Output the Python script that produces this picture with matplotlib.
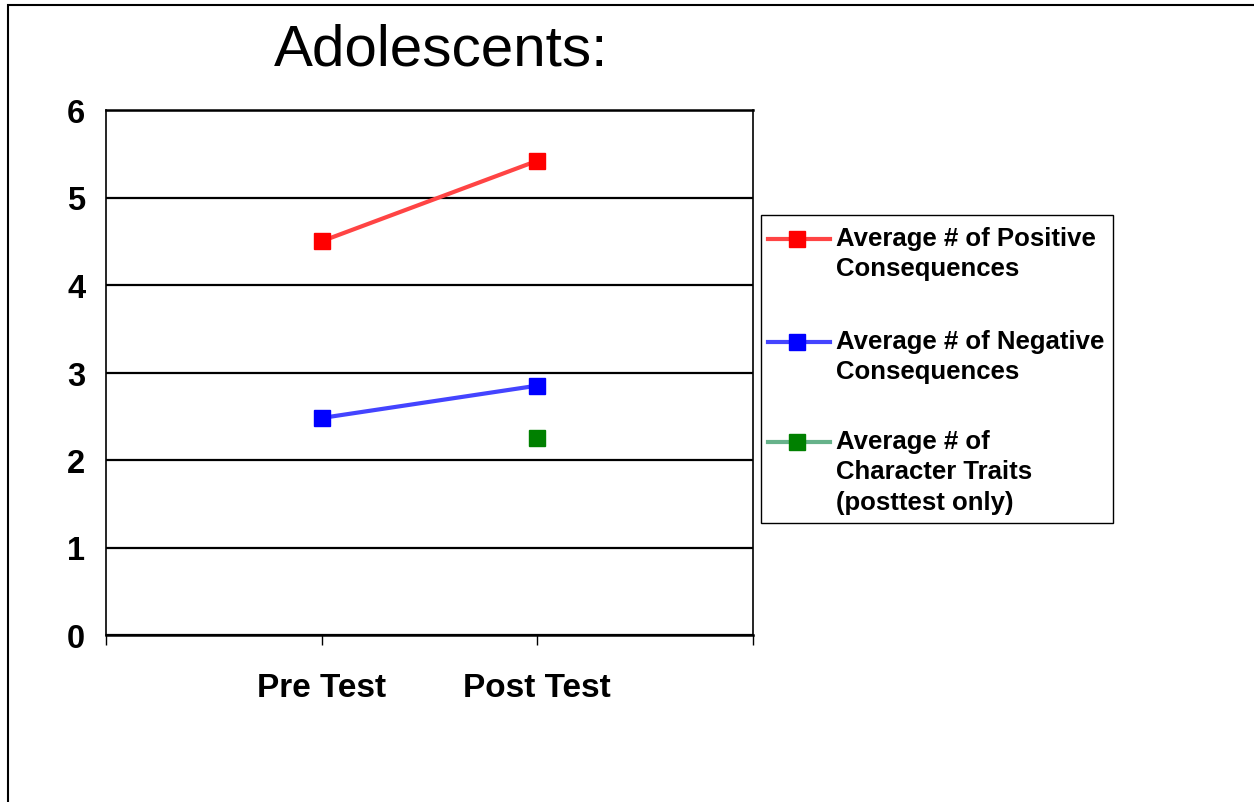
import numpy as np
import matplotlib
matplotlib.use("Agg")
import matplotlib.pyplot as plt
from matplotlib.lines import Line2D
from matplotlib.patches import Rectangle

plt.rcParams['font.family'] = ['Liberation Sans', 'DejaVu Sans']

# data
categories = ['Pre Test', 'Post Test']
series_names = ['Average # of Positive\nConsequences',
                'Average # of Negative\nConsequences',
                'Average # of\nCharacter Traits\n(posttest only)']
positive = [4.50, 5.42]
negative = [2.48, 2.85]
traits = [np.nan, 2.25]
line_colors = ['#FF4444', '#4444FF', '#66B28A']
marker_colors = ['#FF0000', '#0000FF', '#008000']

W, H = 1254, 803
fig = plt.figure(figsize=(W / 100, H / 100), dpi=100)
ax = fig.add_axes([106 / W, 1 - 636 / H, (753 - 106) / W, (636 - 111) / H])

x = np.arange(len(categories))
for vals, lc, mc in zip([positive, negative, traits], line_colors, marker_colors):
    ax.plot(x, vals, color=lc, lw=3, marker='s', markersize=11.5,
            markerfacecolor=mc, markeredgecolor=mc, zorder=3)

ax.set_xlim(-1, 2)
ax.set_ylim(0, 6)
ax.set_yticks(range(0, 7))
ax.set_xticks([-1, 0, 1, 2])
ax.set_xticklabels([''] + categories + [''])
ax.yaxis.grid(True, color='black', lw=1.6)
ax.set_axisbelow(True)
ax.tick_params(axis='x', length=7, width=1, direction='out', pad=20, labelsize=24)
ax.tick_params(axis='y', length=0, pad=15, labelsize=23.5)
for lab in ax.get_xticklabels() + ax.get_yticklabels():
    lab.set_fontweight('bold')
for s in ax.spines.values():
    s.set_color('black')
    s.set_linewidth(1.2)
ax.spines['bottom'].set_linewidth(1.8)
ax.spines['top'].set_linewidth(1.8)

# title
fig.text(441 / W, 1 - 50 / H, 'Adolescents:', fontsize=42, ha='center', va='center')

# outer border
fig.add_artist(Rectangle((8 / W, -0.1), 2, 1 - 6 / H + 0.1, transform=fig.transFigure,
                         fill=False, edgecolor='black', lw=1.5))

# legend, drawn by hand so the handle sits on the first text line
fig.add_artist(Rectangle((761 / W, 1 - 524 / H), (1113 - 761) / W, (524 - 216) / H,
                         transform=fig.transFigure, fill=False, edgecolor='black', lw=1))
legend_y = [240, 343, 443]
for name, lc, mc, yy in zip(series_names, line_colors, marker_colors, legend_y):
    fy = 1 - yy / H
    fig.add_artist(Line2D([768 / W, 830 / W], [fy, fy], transform=fig.transFigure,
                          color=lc, lw=3))
    fig.add_artist(Line2D([797 / W], [fy], transform=fig.transFigure, marker='s',
                          markersize=11.5, color=mc, lw=0))
    fig.text(836 / W, 1 - (yy - 13) / H, name, fontsize=18.5, fontweight='bold',
             ha='left', va='top', linespacing=1.34)

fig.savefig('out.png', dpi=100)
